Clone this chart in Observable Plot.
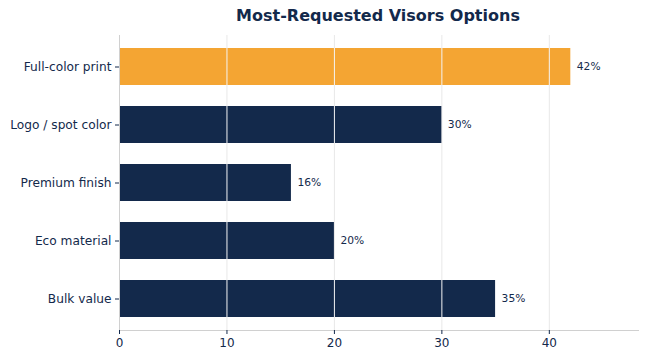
<!DOCTYPE html>
<html>
<head>
<meta charset="utf-8">
<script src="https://cdn.jsdelivr.net/npm/d3@7"></script>
<script src="https://cdn.jsdelivr.net/npm/@observablehq/plot@0.6"></script>
<style>
  html, body { margin: 0; padding: 0; background: #fff; }
  body { width: 646px; height: 360px; overflow: hidden; font-family: "DejaVu Sans", sans-serif; }
  #title { height: 30px; position: relative; }
  #title span {
    position: absolute; left: 378px; top: 6px; transform: translateX(-50%);
    font: bold 16px "DejaVu Sans", sans-serif; color: #13294B; white-space: nowrap;
  }
</style>
</head>
<body>
<div id="title"><span>Most-Requested Visors Options</span></div>
<div id="chart"></div>
<script>
const categories = ["Full-color print", "Logo / spot color", "Premium finish", "Eco material", "Bulk value"];
const shares = [42, 30, 16, 20, 35];
const highlighted = "Full-color print";
const xTicks = [0, 10, 20, 30, 40];

const navy = "#13294B";
const orange = "#F4A533";
const rows = categories.map((c, i) => ({category: c, share: shares[i]}));
// grid segments that cross each bar, drawn light on top of the fill
const gridOnBars = rows.flatMap(r => xTicks.filter(t => t > 0 && t < r.share).map(t => ({category: r.category, tick: t})));

const chart = Plot.plot({
  width: 646,
  height: 330,
  marginLeft: 119,
  marginRight: 8,
  marginTop: 5,
  marginBottom: 30,
  style: {fontFamily: "DejaVu Sans, sans-serif", color: navy, background: "#fff"},
  x: {domain: [0, 48.3], ticks: xTicks},
  y: {domain: categories, paddingInner: 0.36, paddingOuter: 0.223},
  marks: [
    Plot.ruleX(xTicks.slice(1), {stroke: "#e8e8e8", strokeWidth: 1}),
    Plot.barX(rows, {
      y: "category", x: "share",
      fill: d => d.category === highlighted ? orange : navy
    }),
    Plot.tickX(gridOnBars, {x: "tick", y: "category", stroke: "#f4f4f4", strokeWidth: 1}),
    Plot.text(rows, {
      y: "category", x: "share", text: d => `${d.share}%`,
      dx: 6, textAnchor: "start", fontSize: 10.7, fill: navy
    }),
    Plot.ruleX([0], {stroke: "#d0d0d0"}),
    Plot.frame({anchor: "bottom", stroke: "#d0d0d0"}),
    Plot.axisX({ticks: xTicks, tickSize: 4, tickPadding: 4, fontSize: 12, label: null, stroke: navy, fill: navy}),
    Plot.axisY({tickSize: 4, tickPadding: 4, fontSize: 12.2, label: null, stroke: navy, fill: navy})
  ]
});
document.getElementById("chart").appendChild(chart);
</script>
</body>
</html>
